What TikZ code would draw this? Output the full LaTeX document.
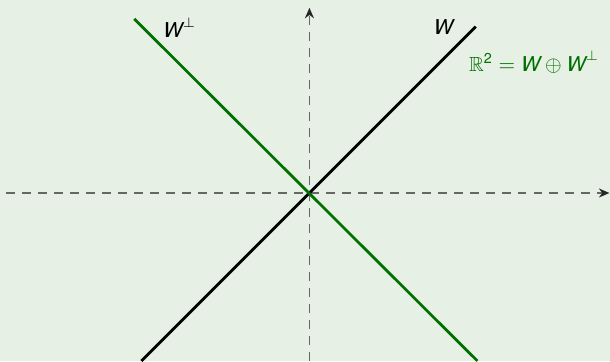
\documentclass[tikz,border=0pt]{standalone}
\usepackage{amsmath,amssymb}
\usepackage{fontspec}
\setmainfont{TeX Gyre Heros}
\usepackage{tikz}
\usetikzlibrary{arrows.meta, positioning}

\definecolor{blockbg}{RGB}{230,240,228}
\definecolor{sumgreen}{RGB}{0,112,0}
\newcommand{\vW}{\text{\itshape W}}

\begin{document}
\begin{tikzpicture}[
    axis/.style={draw=gray!80!black, line width=0.9pt, dash pattern=on 4.6pt off 3.6pt,
      -{Stealth[length=5.4pt,width=4.6pt,color=black!85]}},
    subspace/.style={line width=1.4pt},
    lbl/.style={font=\fontsize{10.5}{12}\selectfont, inner sep=1pt},
]
    % background and frame of the picture
    \fill[blockbg] (-5.58,-3.03) rectangle (5.42,3.48);
    \useasboundingbox (-5.58,-3.03) rectangle (5.42,3.48);

    \coordinate (o) at (0,0);
    \coordinate (xleft) at (-5.47,0);
    \coordinate (xright) at (5.41,0);
    \coordinate (ybottom) at (0,-3.03);
    \coordinate (ytop) at (0,3.34);

    % the two lines
    \coordinate (w_start) at (-3.03,-3.03);
    \coordinate (w_end) at (3,3);
    \coordinate (wp_start) at (-3.16,3.14);
    \coordinate (wp_end) at (3.03,-3.03);

    \draw [axis] (xleft) -- (xright);
    \draw [axis] (ybottom) -- (ytop);

    \draw [subspace, black] (w_start) -- (w_end);
    \draw [subspace, sumgreen] (wp_start) -- (wp_end);

    \node (w_label) [lbl] at (2.42,2.99) {$\vW$};
    \node (wp_label) [lbl] at (-2.34,2.98) {$\vW^{\perp}$};
    \node (sum_label) [lbl, text=sumgreen] at (4.05,2.36)
      {$\mathbb{R}^{\text{2}} = \vW \oplus \vW^{\perp}$};

\end{tikzpicture}
\end{document}
